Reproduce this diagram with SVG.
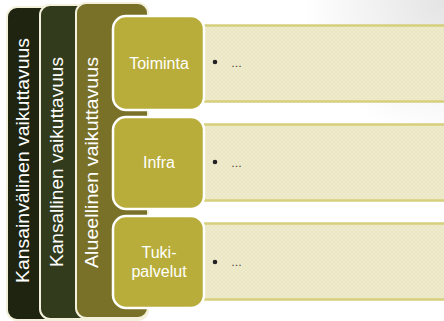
<svg xmlns="http://www.w3.org/2000/svg" width="444" height="321" viewBox="0 0 444 321">
  <defs>
    <radialGradient id="bg" cx="444" cy="0" r="140" gradientUnits="userSpaceOnUse">
      <stop offset="0" stop-color="#e4e4e4"/>
      <stop offset="1" stop-color="#ffffff"/>
    </radialGradient>
    <pattern id="hatch" width="4" height="4" patternUnits="userSpaceOnUse">
      <rect width="4" height="4" fill="#efebcd"/>
      <path d="M0 0L4 4M4 0L0 4" stroke="#e6e1bc" stroke-width="0.6"/>
    </pattern>
    <style>
      .bar{stroke:#f3f1dc;stroke-width:2}
      .vt{font-family:"Liberation Sans",Arial,sans-serif;font-size:19px;fill:#ffffff}
      .box{fill:#b8ad3a;stroke:#ffffff;stroke-width:2.5}
      .bt{font-family:"Liberation Sans",Arial,sans-serif;font-size:16px;fill:#ffffff;text-anchor:middle}
      .panel{fill:url(#hatch)}
      .pb{stroke:#d6cf7c;stroke-width:2.5}
      .dot{fill:#222222}
      .el{font-family:"Liberation Sans",Arial,sans-serif;font-size:11px;fill:#333333}
    </style>
  </defs>
  <rect width="444" height="321" fill="url(#bg)"/>

  <g id="bar-kansainvalinen">
    <rect class="bar" x="7" y="7" width="141" height="313" rx="10" fill="#1e2410"/>
    <text class="vt" transform="translate(29,283) rotate(-90)" textLength="245" lengthAdjust="spacingAndGlyphs">Kansainvälinen vaikuttavuus</text>
  </g>
  <g id="bar-kansallinen">
    <rect class="bar" x="40" y="5" width="108" height="314" rx="10" fill="#323c1c"/>
    <text class="vt" transform="translate(63,267) rotate(-90)" textLength="210" lengthAdjust="spacingAndGlyphs">Kansallinen vaikuttavuus</text>
  </g>
  <g id="bar-alueellinen">
    <rect class="bar" x="76" y="3" width="72" height="315" rx="10" fill="#7a7128"/>
    <text class="vt" transform="translate(98,268) rotate(-90)" textLength="211" lengthAdjust="spacingAndGlyphs">Alueellinen vaikuttavuus</text>
  </g>

  <g id="panel-toiminta">
    <rect class="panel" x="204" y="25" width="242" height="77"/>
    <line class="pb" x1="204" y1="25.5" x2="446" y2="25.5"/>
    <line class="pb" x1="204" y1="101.5" x2="446" y2="101.5"/>
    <circle class="dot" cx="215" cy="62" r="2.3"/>
    <text class="el" x="231" y="67">…</text>
  </g>
  <g id="panel-infra">
    <rect class="panel" x="204" y="124" width="242" height="77"/>
    <line class="pb" x1="204" y1="124.5" x2="446" y2="124.5"/>
    <line class="pb" x1="204" y1="200.5" x2="446" y2="200.5"/>
    <circle class="dot" cx="215" cy="162" r="2.3"/>
    <text class="el" x="231" y="167">…</text>
  </g>
  <g id="panel-tukipalvelut">
    <rect class="panel" x="204" y="223" width="242" height="77"/>
    <line class="pb" x1="204" y1="223.5" x2="446" y2="223.5"/>
    <line class="pb" x1="204" y1="299.5" x2="446" y2="299.5"/>
    <circle class="dot" cx="215" cy="262" r="2.3"/>
    <text class="el" x="231" y="266">…</text>
  </g>

  <g id="box-toiminta">
    <rect class="box" x="113" y="16" width="91" height="94" rx="13"/>
    <text class="bt" x="159" y="69">Toiminta</text>
  </g>
  <g id="box-infra">
    <rect class="box" x="113" y="117" width="91" height="92" rx="13"/>
    <text class="bt" x="159" y="168">Infra</text>
  </g>
  <g id="box-tukipalvelut">
    <rect class="box" x="113" y="216" width="91" height="92" rx="13"/>
    <text class="bt" x="159" y="258">Tuki-</text>
    <text class="bt" x="159" y="277">palvelut</text>
  </g>
</svg>
